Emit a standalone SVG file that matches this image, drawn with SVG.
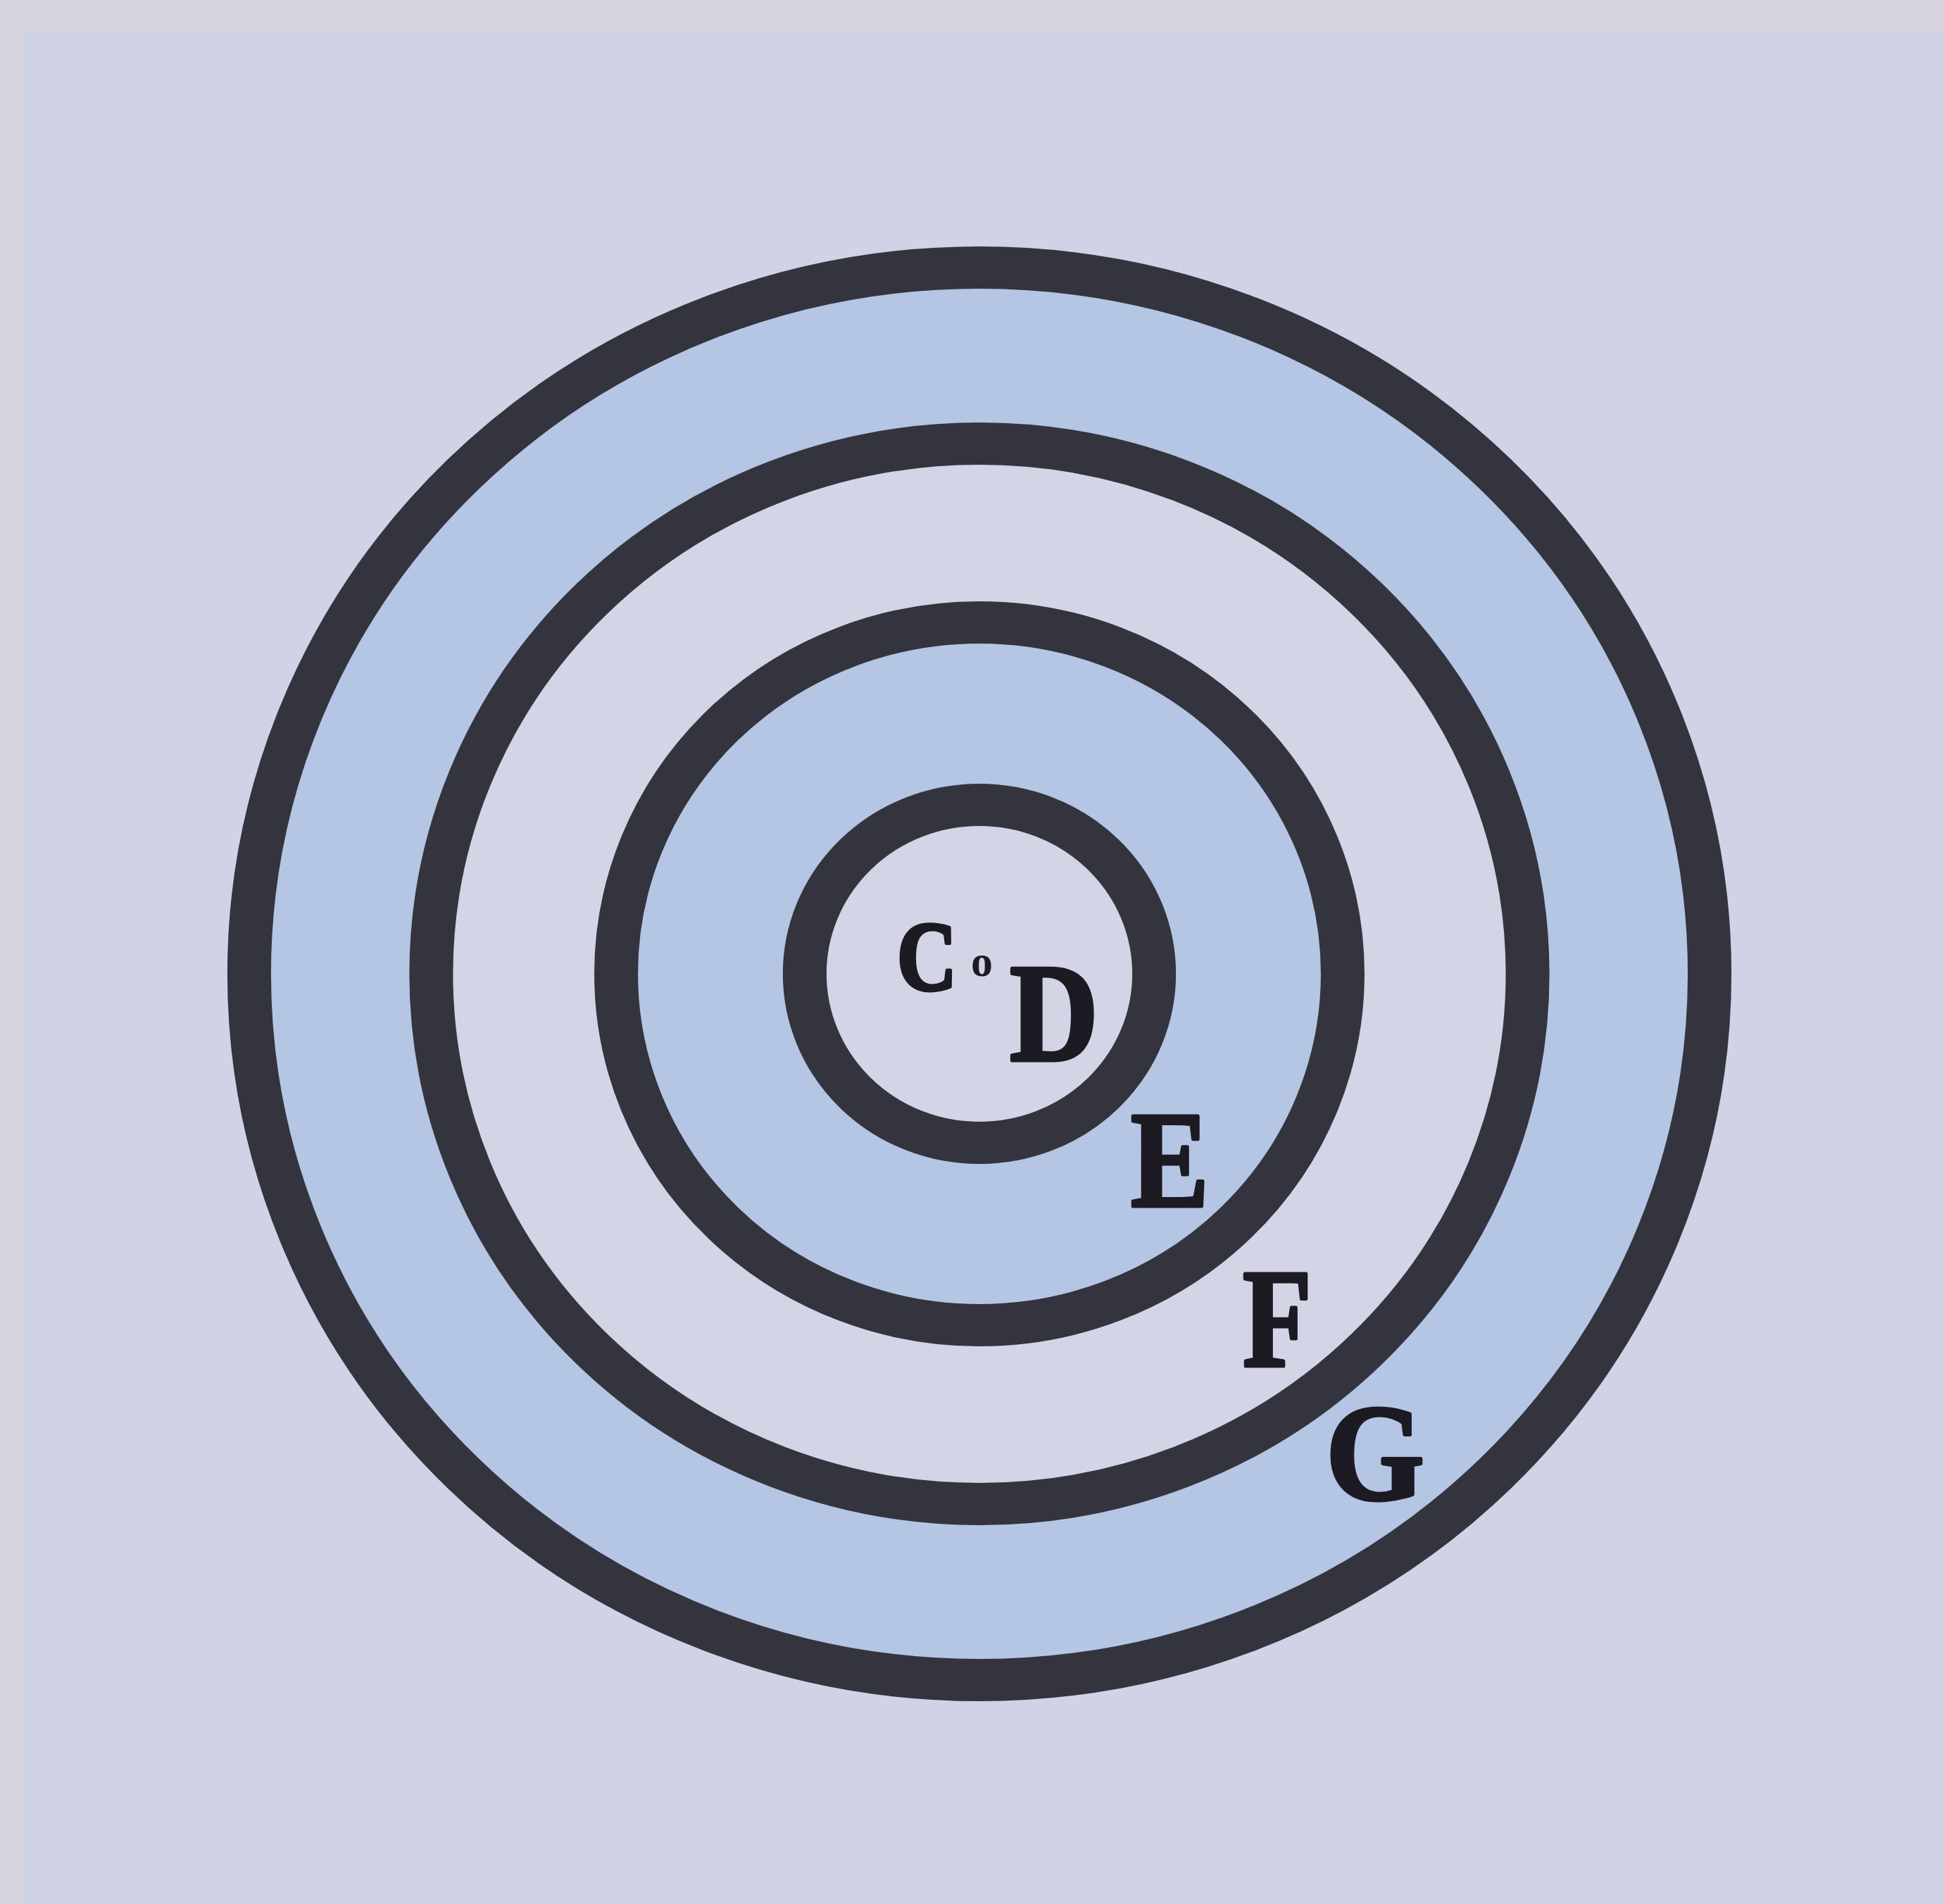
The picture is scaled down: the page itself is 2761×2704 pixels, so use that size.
<svg xmlns="http://www.w3.org/2000/svg" width="2761" height="2704" viewBox="0 0 2761 2704">
  <style>
    .ring { stroke: #34343e; stroke-width: 60; }
    .blue { fill: #b5c5e4; }
    .pale { fill: #d3d5e6; }
    .lbl { font-family: "Liberation Serif", "Times New Roman", serif; font-weight: bold; fill: #1c1a22; stroke: #1c1a22; stroke-width: 5; stroke-linejoin: round; }
  </style>
  <rect x="0" y="0" width="2761" height="2704" fill="#d6d3df"/>
  <rect x="32" y="46" width="2729" height="2658" fill="#d0d3e5"/>
  <g transform="translate(1391,1383) scale(1.034,1)">
    <g id="ring-G"><circle class="ring blue" cx="0" cy="0" r="1003"/></g>
    <g id="ring-F"><circle class="ring pale" cx="0" cy="0" r="753"/></g>
    <g id="ring-E"><circle class="ring blue" cx="0" cy="0" r="499"/></g>
    <g id="ring-D"><circle class="ring pale" cx="0" cy="0" r="240"/></g>
  </g>
  <g id="labels">
    <text class="lbl" x="1274" y="1406" font-size="139" textLength="85" lengthAdjust="spacingAndGlyphs">C</text>
    <text class="lbl" x="1379" y="1386" font-size="62" style="stroke-width:0">o</text>
    <text class="lbl" x="1434" y="1506" font-size="200" textLength="126" lengthAdjust="spacingAndGlyphs">D</text>
    <text class="lbl" x="1606" y="1713" font-size="196" textLength="111" lengthAdjust="spacingAndGlyphs">E</text>
    <text class="lbl" x="1765" y="1940" font-size="200" textLength="98" lengthAdjust="spacingAndGlyphs">F</text>
    <text class="lbl" x="1883" y="2129" font-size="196" textLength="140" lengthAdjust="spacingAndGlyphs">G</text>
  </g>
</svg>
